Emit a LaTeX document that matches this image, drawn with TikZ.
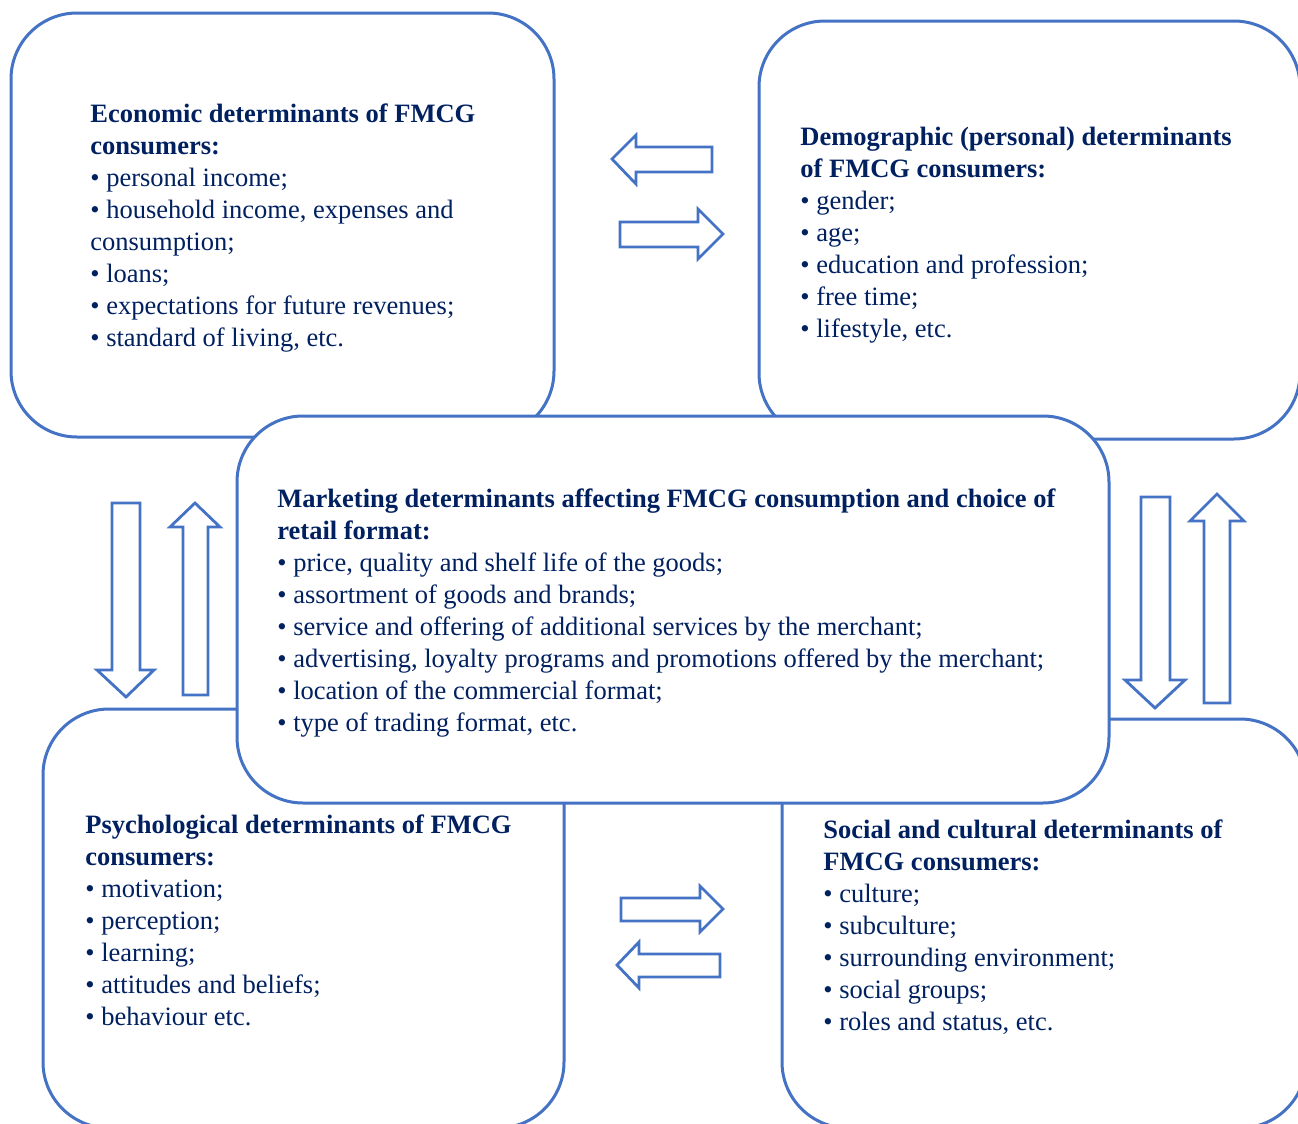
\documentclass[tikz,border=0pt]{standalone}
\usepackage{fontspec}
\setmainfont{Liberation Serif}
\definecolor{boxblue}{HTML}{4472C4}
\definecolor{textnavy}{HTML}{002060}
\tikzset{
  detbox/.style={draw=boxblue,line width=1.5pt,rounded corners=33pt},
  blockarrow/.style={draw=boxblue,line width=1.4pt,fill=white,line join=miter},
  dettext/.style={anchor=north west,inner sep=0pt,align=left,text=textnavy,
    font=\fontsize{13.25}{16}\selectfont}
}
\newcommand{\firstline}{\rule{0pt}{12pt}}
\begin{document}
\begin{tikzpicture}[x=0.5pt,y=-0.5pt]
      \useasboundingbox (0,0) rectangle (1298,1124);
      \clip (0,0) rectangle (1298,1124);
      % outer boxes
      \draw[detbox] (11,13) rectangle (554,437);
      \draw[detbox] (759,21) rectangle (1300,439);
      \draw[detbox] (43,709) rectangle (564,1128);
      \draw[detbox] (782,719) rectangle (1306,1128);
      % middle box on top
      \draw[detbox,fill=white] (237,416) rectangle (1109,803);
      % arrows between the boxes
      \draw[blockarrow] (712,147) -- (636,147) -- (636,135) -- (612,159) -- (636,184) -- (636,172) -- (712,172) -- cycle;
      \draw[blockarrow] (620,222) -- (698,222) -- (698,209) -- (723,234) -- (698,259) -- (698,247) -- (620,247) -- cycle;
      \draw[blockarrow] (112,503) -- (140,503) -- (140,670) -- (154,670) -- (126,697) -- (97,670) -- (112,670) -- cycle;
      \draw[blockarrow] (183,695) -- (208,695) -- (208,527) -- (220,527) -- (195,503) -- (170,527) -- (183,527) -- cycle;
      \draw[blockarrow] (1141,497) -- (1170,497) -- (1170,680) -- (1185,680) -- (1155,708) -- (1125,680) -- (1141,680) -- cycle;
      \draw[blockarrow] (1204,703) -- (1230,703) -- (1230,521) -- (1244,521) -- (1217,494) -- (1190,521) -- (1204,521) -- cycle;
      \draw[blockarrow] (621,898) -- (700,898) -- (700,886) -- (723,909) -- (700,932) -- (700,921) -- (621,921) -- cycle;
      \draw[blockarrow] (720,954) -- (639,954) -- (639,942) -- (617,965) -- (639,988) -- (639,977) -- (720,977) -- cycle;
      % texts
      \node[dettext] (econ) at (90,98) {\firstline\textbf{Economic determinants of FMCG}\\
        \textbf{consumers:}\\
        • personal income;\\
        • household income, expenses and\\
        consumption;\\
        • loans;\\
        • expectations for future revenues;\\
        • standard of living, etc.};
      \node[dettext] (demo) at (800,121) {\firstline\textbf{Demographic (personal) determinants}\\
        \textbf{of FMCG consumers:}\\
        • gender;\\
        • age;\\
        • education and profession;\\
        • free time;\\
        • lifestyle, etc.};
      \node[dettext] (mark) at (277,483) {\firstline\textbf{Marketing determinants affecting FMCG consumption and choice of}\\
        \textbf{retail format:}\\
        • price, quality and shelf life of the goods;\\
        • assortment of goods and brands;\\
        • service and offering of additional services by the merchant;\\
        • advertising, loyalty programs and promotions offered by the merchant;\\
        • location of the commercial format;\\
        • type of trading format, etc.};
      \node[dettext] (psych) at (85,809) {\firstline\textbf{Psychological determinants of FMCG}\\
        \textbf{consumers:}\\
        • motivation;\\
        • perception;\\
        • learning;\\
        • attitudes and beliefs;\\
        • behaviour etc.};
      \node[dettext] (soc) at (823,814) {\firstline\textbf{Social and cultural determinants of}\\
        \textbf{FMCG consumers:}\\
        • culture;\\
        • subculture;\\
        • surrounding environment;\\
        • social groups;\\
        • roles and status, etc.};
\end{tikzpicture}
\end{document}
